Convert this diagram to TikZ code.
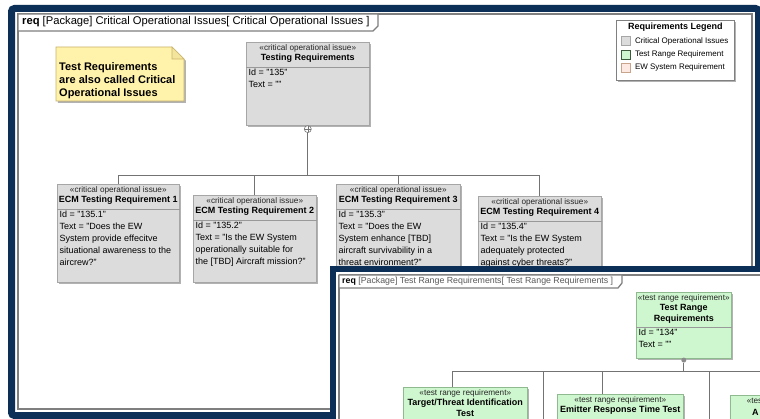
\documentclass[tikz,border=0pt]{standalone}
\usepackage{fontspec}
\setmainfont{Liberation Sans}
\usetikzlibrary{positioning,calc,shadows}

\definecolor{navy}{HTML}{0B2F57}
\definecolor{cofill}{HTML}{DCDCDC}
\definecolor{coline}{HTML}{A6A6A6}
\definecolor{trfill}{HTML}{CFF7CF}
\definecolor{trline}{HTML}{8FB98F}
\definecolor{trdark}{HTML}{3C5A3C}
\definecolor{notefill}{HTML}{FFF2AA}
\definecolor{noteline}{HTML}{C9B36A}
\definecolor{ewfill}{HTML}{FDE8E2}
\definecolor{ewline}{HTML}{C8A48C}
\definecolor{frameline}{HTML}{7F7F7F}

\tikzset{
  boxshadow/.style={drop shadow={shadow xshift=1.8pt, shadow yshift=-1.8pt, fill=black!30, opacity=1}},
  cobox/.style={draw=coline, fill=cofill, line width=.6pt, boxshadow},
  trbox/.style={draw=trline, fill=trfill, line width=.6pt, boxshadow},
  splitline/.style={draw=black!40, line width=.5pt},
  stereotxt/.style={inner sep=.6pt, font=\fontsize{8.2}{9.5}\selectfont, text=black!85},
  titletxt/.style={inner sep=1pt, font=\fontsize{9}{10.5}\selectfont\bfseries, align=center},
  bodytxt/.style={inner xsep=2.5pt, inner ysep=2pt, font=\fontsize{9}{12}\selectfont, align=left},
  conn/.style={draw=black!55, line width=.8pt},
  frame/.style={draw=frameline, line width=1.3pt},
  navyframe/.style={draw=navy, line width=7pt, rounded corners=3pt},
  contain/.style={circle, draw=black!55, fill=white, minimum size=7pt, inner sep=0pt, line width=.6pt,
    path picture={\draw[black!55, line width=.5pt] (path picture bounding box.north) -- (path picture bounding box.south)
      (path picture bounding box.west) -- (path picture bounding box.east);}},
  dot/.style={circle, fill=black!45, minimum size=5pt, inner sep=0pt},
  legkey/.style={minimum size=9pt, inner sep=0pt, line width=.6pt},
  legtxt/.style={inner sep=0pt, font=\fontsize{8}{9}\selectfont},
}

% name, style, north west corner, width, height, stereotype, title, body, header height
\newcommand{\reqbox}[9]{%
  \node[#2, anchor=north west, minimum width=#4, minimum height=#5] (#1) at #3 {};
  \node[stereotxt, anchor=north] (#1-st) at ([yshift=-2pt]#1.north) {#6};
  \node[titletxt, anchor=north] (#1-ti) at (#1-st.south) {#7};
  \draw[splitline] ([yshift=-#9]#1.north west) -- ([yshift=-#9]#1.north east);
  \node[bodytxt, anchor=north west] (#1-bd) at ([yshift=-#9]#1.north west) {#8};
}

\begin{document}
\begin{tikzpicture}[x=1pt, y=-1pt]
  \clip (0,0) rectangle (760,419);
  \fill[white] (0,0) rectangle (760,419);

  % Diagram frame
  \draw[frame] (18,14) rectangle (752,409);
  \draw[frame, fill=white] (18,14) -- (378,14) -- (378,26) -- (373,31) -- (18,31) -- cycle;
  \node[anchor=west, inner sep=0pt, font=\fontsize{11.2}{13}\selectfont] (ftitle) at (22,22)
    {\textbf{req} [Package] Critical Operational Issues[ Critical Operational Issues ]};

  % Note
  \draw[draw=noteline, fill=notefill, line width=.6pt, boxshadow] (56,47) -- (172,47) -- (184,59) -- (184,101) -- (56,101) -- cycle;
  \draw[draw=noteline, fill=notefill!80!noteline, line width=.6pt] (172,47) -- (172,59) -- (184,59) -- cycle;
  \node[anchor=north west, inner sep=0pt, align=left, font=\fontsize{11}{13}\selectfont\bfseries] (note) at (59,62)
    {Test Requirements\\are also called Critical\\Operational Issues};

  % Legend
  \node[draw=black!50, fill=white, line width=.7pt, boxshadow, anchor=north west, minimum width=118, minimum height=60] (legend) at (616,20) {};
  \node[anchor=north, inner sep=0pt, font=\fontsize{9}{10}\selectfont\bfseries] (legend-t) at ([yshift=-3pt]legend.north) {Requirements Legend};
  \foreach \fc/\dc/\txt [count=\i] in {cofill/coline/Critical Operational Issues,
      trfill/trdark/Test Range Requirement, ewfill/ewline/EW System Requirement} {
    \node[legkey, fill=\fc, draw=\dc] (legend-k\i) at (626,{28+13.3*\i}) {};
    \node[legtxt, right=4pt of legend-k\i] (legend-l\i) {\txt};
  }

  % Requirements
  \reqbox{tr135}{cobox}{(246,42)}{123}{83}{«critical operational issue»}{Testing Requirements}
    {Id = "135"\\Text = ""}{25pt}
  \reqbox{ecm1}{cobox}{(57,184)}{122}{98}{«critical operational issue»}{ECM Testing Requirement 1}
    {Id = "135.1"\\Text = "Does  the EW\\System provide effecitve\\situational awareness to the\\aircrew?"}{25pt}
  \reqbox{ecm2}{cobox}{(193,195)}{123}{87}{«critical operational issue»}{ECM Testing Requirement 2}
    {Id = "135.2"\\Text = "Is the EW System\\operationally suitable for\\the [TBD] Aircraft mission?"}{25pt}
  \reqbox{ecm3}{cobox}{(336,184)}{124}{100}{«critical operational issue»}{ECM Testing Requirement 3}
    {Id = "135.3"\\Text = "Does the EW\\System enhance [TBD]\\aircraft survivability in a\\threat environment?"}{25pt}
  \reqbox{ecm4}{cobox}{(478,196)}{123}{92}{«critical operational issue»}{ECM Testing Requirement 4}
    {Id = "135.4"\\Text = "Is the EW System\\adequately protected\\against cyber threats?"}{25pt}

  % Containment tree
  \node[contain] (tr135-cp) at ([yshift=-3.5pt]tr135.south) {};
  \coordinate (bus) at ([yshift=-50pt]tr135.south);
  \draw[conn] (tr135-cp) -- (bus);
  \draw[conn] (bus -| ecm1.north) -- (bus -| ecm4.north);
  \foreach \n in {ecm1,ecm2,ecm3,ecm4}
    \draw[conn] (bus -| \n.north) -- (\n.north);

  \draw[navyframe] (11.5,8.5) rectangle (758.5,415.5);

  % Second screenshot
  \fill[white] (330,266) rectangle (780,440);
  \begin{scope}
    \clip (336,272) rectangle (760,419);
    \draw[frame] (339,275) -- (780,275);
    \draw[frame] (339,275) -- (339,440);
    \draw[frame, fill=white] (339,275) -- (622,275) -- (622,283) -- (618,288) -- (339,288) -- cycle;
    \node[anchor=west, inner sep=0pt, font=\fontsize{8.8}{10}\selectfont, text=black!65] (ttitle) at (342,281.5)
      {\textcolor{black}{\textbf{req}} [Package] Test Range Requirements[ Test Range Requirements ]};

    \reqbox{trr}{trbox}{(636,292)}{95}{66}{«test range requirement»}{Test Range\\Requirements}
      {Id = "134"\\Text = ""}{35pt}
    \reqbox{tgt}{trbox}{(403,387)}{124}{60}{«test range requirement»}{Target/Threat Identification\\Test}{}{35pt}
    \reqbox{emit}{trbox}{(557,394)}{126}{60}{«test range requirement»}{Emitter Response Time Test}{}{25pt}
    \node[trbox, anchor=north west, minimum width=120, minimum height=60] (rgt) at (730,395) {};
    \node[stereotxt, anchor=west] (rgt-st) at (746,401) {«tes};
    \node[titletxt, anchor=west] (rgt-ti) at (751,412) {A};

    \node[dot] (trr-cp) at ([yshift=-1.5pt]trr.south) {};
    \coordinate (tb-1) at (452,371);
    \coordinate (tb-2) at (543,371);
    \coordinate (tb-3) at (602,371);
    \coordinate (tb-4) at (709,371);
    \coordinate (tb-e) at (780,371);
    \coordinate (tb-2e) at (543,430);
    \coordinate (tb-4e) at (709,430);
    \draw[conn] (trr-cp) -- (trr-cp |- tb-1);
    \draw[conn] (tb-1) -- (tb-e);
    \draw[conn] (tb-1) -- (tb-1 |- tgt.north);
    \draw[conn] (tb-3) -- (tb-3 |- emit.north);
    \draw[conn] (tb-2) -- (tb-2e);
    \draw[conn] (tb-4) -- (tb-4e);
  \end{scope}
  \draw[draw=navy, line width=6pt] (333,440) -- (333,269) -- (780,269);
\end{tikzpicture}
\end{document}
